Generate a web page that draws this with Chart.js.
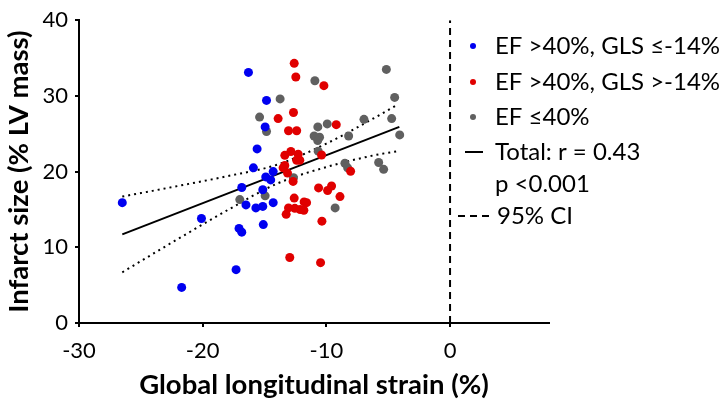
<!DOCTYPE html>
<html>
<head>
<meta charset="utf-8">
<script src="https://cdn.jsdelivr.net/npm/chart.js@4.4.0/dist/chart.umd.min.js"></script>
<style>
  html, body { margin: 0; padding: 0; background: #fff; }
  #wrap { position: relative; width: 720px; height: 403px; }
</style>
</head>
<body>
<div id="wrap"><canvas id="chart" width="720" height="403"></canvas></div>
<script>
// values: GLS (%) on x, infarct size (% LV mass) on y
const blueGLS = [-16.3, -14.84, -14.95, -15.6, -15.9, -14.3, -26.5, -14.9, -14.5, -16.84, -15.14,
  -16.5, -15.7, -15.14, -14.3, -20.1, -17.06, -16.84, -15.1, -17.3, -21.7];
const blueIS = [33.1, 29.4, 25.9, 23.0, 20.5, 20.0, 15.9, 19.3, 18.9, 17.9, 17.6,
  15.6, 15.2, 15.4, 15.9, 13.8, 12.5, 12.0, 13.0, 7.05, 4.7];

const redGLS = [-12.6, -12.47, -10.2, -13.9, -12.66, -13.06, -12.4, -9.2, -10.39, -12.87, -13.36, -12.28,
  -12.4, -12.15, -13.36, -13.5, -13.14, -8.04, -12.69, -10.63, -9.9, -9.58, -8.9, -12.6, -11.8, -11.6,
  -13.06, -12.55, -12.12, -11.82, -13.25, -10.36, -12.96, -10.47];
const redIS = [34.3, 32.5, 31.35, 27.0, 27.8, 25.4, 25.4, 26.2, 22.2, 22.66, 22.15, 22.3,
  21.5, 21.5, 20.8, 20.5, 19.8, 20.04, 18.7, 17.85, 17.5, 18.1, 16.7, 16.5, 16.0, 15.9,
  15.2, 15.15, 15.0, 14.9, 14.35, 13.45, 8.65, 7.97];

const grayGLS = [-13.74, -15.4, -14.84, -17.0, -14.95, -10.93, -5.15, -4.48, -10.69, -9.93, -6.96, -4.72,
  -4.07, -10.99, -10.55, -10.7, -8.2, -10.66, -8.5, -8.28, -5.77, -5.37, -12.66, -9.29];
const grayIS = [29.6, 27.2, 25.3, 16.3, 16.8, 32.0, 33.5, 29.8, 25.9, 26.3, 26.9, 27.0,
  24.85, 24.7, 24.55, 24.1, 24.7, 22.7, 21.1, 20.5, 21.2, 20.3, 19.2, 15.2];

// regression line and 95% CI band, read at a few x positions
const fitGLS = [-26.5, -4.1];
const fitIS = [11.7, 25.9];
const ciGLS = [-26.5, -22, -18, -14, -10, -6, -4.2];
const ciUpper = [16.7, 18.1, 19.4, 20.9, 23.7, 27.2, 28.9];
const ciLower = [6.7, 11.1, 14.9, 18.4, 20.6, 22.2, 22.7];

const xTicks = [-30, -20, -10, 0];
const yTicks = [0, 10, 20, 30, 40];

const legendRows = [
  { mark: 'dot', color: '#0000f0', text: 'EF >40%, GLS \u2264-14%' },
  { mark: 'dot', color: '#e00000', text: 'EF >40%, GLS >-14%' },
  { mark: 'dot', color: '#606060', text: 'EF \u226440%' },
  { mark: 'line', color: '#000', text: 'Total: r = 0.43' },
  { mark: 'none', color: '#000', text: 'p <0.001' },
  { mark: 'dash', color: '#000', text: '95% CI' }
];

const zip = (xs, ys) => xs.map((x, i) => ({ x: x, y: ys[i] }));

const sideLegend = {
  id: 'sideLegend',
  afterDraw(chart) {
    const ctx = chart.ctx;
    ctx.save();
    ctx.font = '24px Lato';
    ctx.textBaseline = 'middle';
    const rowY = [46, 82, 117, 152, 184, 216];
    legendRows.forEach((r, i) => {
      const y = rowY[i];
      ctx.fillStyle = r.color;
      ctx.strokeStyle = r.color;
      if (r.mark === 'dot') {
        ctx.beginPath();
        ctx.arc(473, y, 3, 0, Math.PI * 2);
        ctx.fill();
      } else if (r.mark === 'line') {
        ctx.lineWidth = 2;
        ctx.beginPath();
        ctx.moveTo(465, y); ctx.lineTo(483, y);
        ctx.stroke();
      } else if (r.mark === 'dash') {
        ctx.lineWidth = 2;
        ctx.setLineDash([7, 5]);
        ctx.beginPath();
        ctx.moveTo(458, y); ctx.lineTo(494, y);
        ctx.stroke();
        ctx.setLineDash([]);
      }
      ctx.fillStyle = '#000';
      ctx.fillText(r.text, r.mark === 'dash' ? 497 : 495, y);
    });
    ctx.restore();
  }
};

const pointSet = (label, xs, ys, color) => ({
  type: 'scatter', label: label, data: zip(xs, ys),
  backgroundColor: color, borderColor: color, pointRadius: 4.5, borderWidth: 0, order: 0
});

new Chart(document.getElementById('chart'), {
  type: 'scatter',
  data: {
    datasets: [
      pointSet('EF >40%, GLS \u2264-14%', blueGLS, blueIS, '#0000f0'),
      pointSet('EF >40%, GLS >-14%', redGLS, redIS, '#e00000'),
      pointSet('EF \u226440%', grayGLS, grayIS, '#606060'),
      { type: 'line', label: 'Total', data: zip(fitGLS, fitIS), borderColor: '#000', borderWidth: 2,
        pointRadius: 0, fill: false, order: 1 },
      { type: 'line', label: 'CI upper', data: zip(ciGLS, ciUpper), borderColor: '#000', borderWidth: 2,
        borderDash: [2, 4], pointRadius: 0, fill: false, cubicInterpolationMode: 'monotone', order: 1 },
      { type: 'line', label: 'CI lower', data: zip(ciGLS, ciLower), borderColor: '#000', borderWidth: 2,
        borderDash: [2, 4], pointRadius: 0, fill: false, cubicInterpolationMode: 'monotone', order: 1 },
      { type: 'line', label: 'zero', data: [{ x: 0, y: 0 }, { x: 0, y: 40 }], borderColor: '#000',
        borderWidth: 2, borderDash: [7, 5], pointRadius: 0, fill: false, order: 1 }
    ]
  },
  options: {
    responsive: false,
    animation: false,
    devicePixelRatio: 1,
    layout: { padding: { left: 0, top: 10, right: 171, bottom: 0 } },
    plugins: { legend: { display: false }, tooltip: { enabled: false } },
    scales: {
      x: {
        type: 'linear', min: -30, max: 8,
        afterBuildTicks: s => { s.ticks = xTicks.map(v => ({ value: v })); },
        afterFit: s => { s.height = 80; },
        grid: { drawOnChartArea: false, drawTicks: true, tickLength: 4, color: '#000', lineWidth: 2 },
        border: { display: true, color: '#000', width: 2 },
        ticks: { color: '#000', font: { family: 'Lato', size: 22 }, padding: 11, maxRotation: 0,
          callback: v => String(v) },
        title: { display: true, text: 'Global longitudinal strain (%)', color: '#000',
          font: { family: 'Lato', size: 27.5, weight: 'bold' }, padding: { top: 0, bottom: 1 } }
      },
      y: {
        type: 'linear', min: 0, max: 40,
        afterBuildTicks: s => { s.ticks = yTicks.map(v => ({ value: v })); },
        afterFit: s => { s.width = 79; },
        grid: { drawOnChartArea: false, drawTicks: true, tickLength: 4, color: '#000', lineWidth: 2 },
        border: { display: true, color: '#000', width: 2 },
        ticks: { color: '#000', font: { family: 'Lato', size: 22 }, padding: 7,
          callback: v => String(v) },
        title: { display: true, text: 'Infarct size (% LV mass)', color: '#000',
          font: { family: 'Lato', size: 27.5, weight: 'bold' }, padding: { top: 3, bottom: 0 } }
      }
    }
  },
  plugins: [sideLegend]
});
</script>
</body>
</html>
